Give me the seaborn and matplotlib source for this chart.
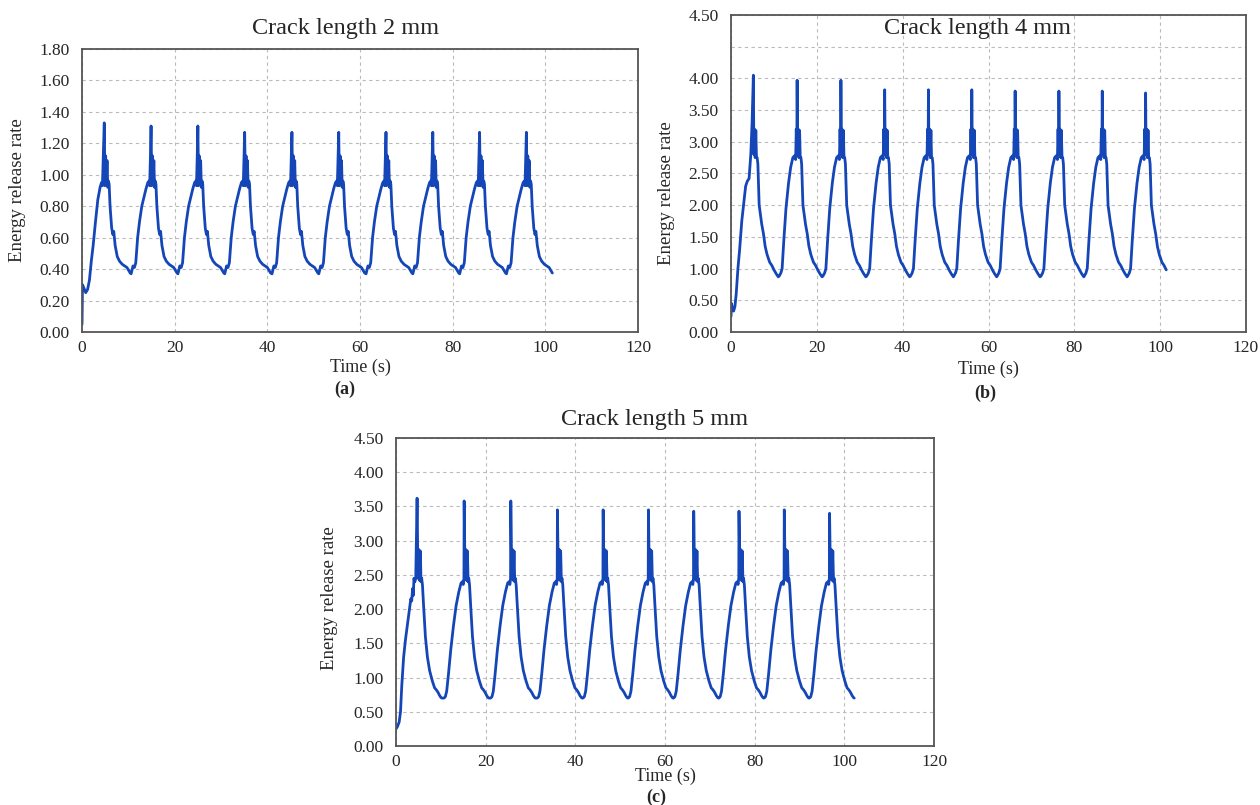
import pandas as pd
import numpy as np
import matplotlib.pyplot as plt
import seaborn as sns

# ---- data (time in s, energy release rate) ----

# (a) crack length 2 mm
a_start_t = [0.0, 0.1, 0.4, 0.8, 1.2, 1.6, 2.0, 2.4, 2.9, 3.4, 3.9, 4.2, 4.4]
a_start_g = [0.05, 0.30, 0.28, 0.25, 0.27, 0.33, 0.45, 0.55, 0.70, 0.84, 0.92, 0.95, 0.93]
a_peak_t = [4.8, 14.9, 25.0, 35.1, 45.3, 55.4, 65.6, 75.7, 85.8, 95.9]
a_peak_g = [1.33, 1.31, 1.31, 1.27, 1.27, 1.27, 1.27, 1.27, 1.27, 1.27]
a_cyc_t = [-4.3, -3.9, -3.6, -3.3, -2.9, -2.5, -2.0, -1.5, -1.1, -0.7, -0.45, -0.3, -0.15, 0.0,
           0.15, 0.3, 0.45, 0.6, 0.75, 0.9, 1.05, 1.25, 1.6, 1.85, 2.05, 2.35, 2.8, 3.3, 3.9,
           4.4, 4.9, 5.3, 5.6]
a_cyc_g = [0.37, 0.42, 0.41, 0.44, 0.60, 0.70, 0.80, 0.86, 0.91, 0.95, 0.96, 0.93, 1.10, None,
           0.93, 1.12, 0.94, 1.09, 0.92, 0.96, 0.94, 0.80, 0.66, 0.62, 0.64, 0.55, 0.48, 0.45, 0.43,
           0.42, 0.41, 0.39, 0.375]
a_end = 101.5

# (b) crack length 4 mm
b_start_t = [0.0, 0.1, 0.3, 0.6, 0.9, 1.2, 1.6, 2.0, 2.5, 3.0, 3.4, 3.8, 4.2, 4.6, 4.9]
b_start_g = [0.25, 0.45, 0.38, 0.33, 0.40, 0.60, 1.00, 1.30, 1.75, 2.05, 2.30, 2.38, 2.42, 2.80, 3.30]
b_peak_t = [5.2, 15.4, 25.6, 35.8, 46.0, 56.1, 66.2, 76.4, 86.5, 96.6]
b_peak_g = [4.05, 3.97, 3.97, 3.82, 3.82, 3.82, 3.80, 3.80, 3.80, 3.77]
b_cyc_t = [-4.2, -3.8, -3.5, -3.1, -2.6, -2.0, -1.5, -1.0, -0.6, -0.35, -0.2, -0.08, 0.0,
           0.12, 0.27, 0.42, 0.57, 0.72, 0.88, 1.05, 1.35, 1.65, 1.95, 2.35, 2.75, 3.2, 3.8, 4.3,
           4.8, 5.3, 5.8]
b_cyc_g = [0.88, 0.93, 1.00, 1.45, 1.95, 2.35, 2.60, 2.75, 2.78, 2.72, 3.20, 2.80, None,
           2.80, 3.20, 2.75, 3.18, 2.75, 2.75, 2.65, 2.00, 1.85, 1.70, 1.55, 1.35, 1.22, 1.10, 1.05,
           0.98, 0.92, 0.87]
b_end = 101.5

# (c) crack length 5 mm
c_start_t = [0.0, 0.3, 0.7, 1.0, 1.3, 1.7, 2.1, 2.5, 3.0, 3.3, 3.5, 3.7, 3.85, 4.0, 4.2, 4.4]
c_start_g = [0.25, 0.28, 0.35, 0.50, 0.90, 1.30, 1.55, 1.75, 2.00, 2.15, 2.12, 2.30, 2.20, 2.45, 2.40, 2.45]
c_peak_t = [4.7, 15.2, 25.6, 36.0, 46.2, 56.3, 66.4, 76.5, 86.6, 96.7]
c_peak_g = [3.62, 3.58, 3.58, 3.45, 3.45, 3.45, 3.43, 3.43, 3.45, 3.40]
c_cyc_t = [-4.5, -4.2, -3.9, -3.5, -3.0, -2.4, -1.8, -1.2, -0.7, -0.4, -0.2, -0.05, 0.0,
           0.2, 0.38, 0.55, 0.72, 0.88, 1.02, 1.2, 1.45, 1.85, 2.3, 2.8, 3.4, 3.9, 4.3, 4.7,
           5.0, 5.3, 5.5]
c_cyc_g = [0.70, 0.72, 0.80, 1.05, 1.40, 1.75, 2.05, 2.25, 2.38, 2.40, 2.36, 2.45, None,
           2.45, 2.87, 2.42, 2.85, 2.40, 2.45, 2.35, 2.05, 1.60, 1.30, 1.10, 0.95, 0.85, 0.82, 0.78,
           0.74, 0.71, 0.70]
c_end = 102.3

titles = ["Crack length 2 mm", "Crack length 4 mm", "Crack length 5 mm"]
panel_tags = ["(a)", "(b)", "(c)"]
x_ticks = [0, 20, 40, 60, 80, 100, 120]

# y-axis ticks and labels as printed on each panel
a_yticks = [0.0, 0.2, 0.4, 0.6, 0.8, 1.0, 1.2, 1.4, 1.6, 1.8]
a_ylabels = ['0.00', '0.20', '0.40', '0.60', '0.80', '1.00', '1.20', '1.40', '1.60', '1.80']
b_yticks = [0.0, 0.5, 1.0, 1.5, 2.0, 2.5, 3.0, 3.5, 4.0, 4.5, 5.0]
b_ylabels = ['0.00', '0.50', '1.00', '1.50', '2.00', '2.50', '3.00', '3.50', '4.00', '', '4.50']
c_yticks = [0.0, 0.5, 1.0, 1.5, 2.0, 2.5, 3.0, 3.5, 4.0, 4.5]
c_ylabels = ['0.00', '0.50', '1.00', '1.50', '2.00', '2.50', '3.00', '3.50', '4.00', '4.50']


def build_series(start_t, start_g, peak_t, peak_g, cyc_t, cyc_g, t_end):
    """Stitch the read-off start segment and cycles into one time series."""
    t_all, g_all = list(start_t), list(start_g)
    for i, (tp, gp) in enumerate(zip(peak_t, peak_g)):
        for o, g in zip(cyc_t, cyc_g):
            if i == 0 and o < 0:
                continue
            if tp + o > t_end:
                continue
            t_all.append(round(tp + o, 3))
            g_all.append(gp if g is None else g)
    return pd.DataFrame({'Time (s)': t_all, 'G': g_all})


series = [
    build_series(a_start_t, a_start_g, a_peak_t, a_peak_g, a_cyc_t, a_cyc_g, a_end),
    build_series(b_start_t, b_start_g, b_peak_t, b_peak_g, b_cyc_t, b_cyc_g, b_end),
    build_series(c_start_t, c_start_g, c_peak_t, c_peak_g, c_cyc_t, c_cyc_g, c_end),
]
yticks = [a_yticks, b_yticks, c_yticks]
ylabels = [a_ylabels, b_ylabels, c_ylabels]

sns.set_style("white")
plt.rcParams['font.family'] = ['Liberation Serif', 'DejaVu Serif']

fig = plt.figure(figsize=(12.6, 8.05), dpi=100)

axes_rects = [
    [0.0651, 0.5876, 0.4413, 0.3516],
    [0.5802, 0.5876, 0.4087, 0.3938],
    [0.3143, 0.0733, 0.4270, 0.3826],
]
title_pos = [(0.274, 0.9652), (0.7754, 0.9652), (0.5198, 0.4783)]
tag_pos = [(0.274, 0.5168), (0.782, 0.5118), (0.521, 0.0099)]
ylab_pos = [(-0.101, 0.50), (-0.109, 0.438), (-0.108, 0.48)]
xlab_pos = [(0.5, -0.095), (0.5, -0.0915), (0.5, -0.071)]

line_color = '#1446b8'

for i, df in enumerate(series):
    ax = fig.add_axes(axes_rects[i])
    sns.lineplot(data=df, x='Time (s)', y='G', ax=ax, color=line_color,
                 linewidth=2.0, estimator=None, sort=False)

    ax.set_xlim(0, 120)
    ax.set_ylim(yticks[i][0], yticks[i][-1])
    ax.set_xticks(x_ticks)
    ax.set_yticks(yticks[i])
    ax.set_yticklabels(ylabels[i])

    ax.grid(True, color='#bbbbbb', linestyle=(0, (3, 3)), linewidth=0.8)
    for side in ['left', 'bottom', 'top', 'right']:
        ax.spines[side].set_color('#555555')
        ax.spines[side].set_linewidth(1.3)
    ax.tick_params(axis='both', labelsize=12.5, direction='in', length=3,
                   color='#555555')
    ax.tick_params(axis='y', pad=9)
    ax.tick_params(axis='x', pad=6)

    ax.set_xlabel('Time (s)', fontsize=13)
    ax.set_ylabel('Energy release rate', fontsize=13.5)
    ax.xaxis.set_label_coords(*xlab_pos[i])
    ax.yaxis.set_label_coords(*ylab_pos[i])

    fig.text(title_pos[i][0], title_pos[i][1], titles[i], fontsize=17.5,
             ha='center', va='center')
    fig.text(tag_pos[i][0], tag_pos[i][1], panel_tags[i], fontsize=13,
             fontweight='bold', ha='center', va='center')

plt.savefig('out.png', dpi=100)
plt.close()
